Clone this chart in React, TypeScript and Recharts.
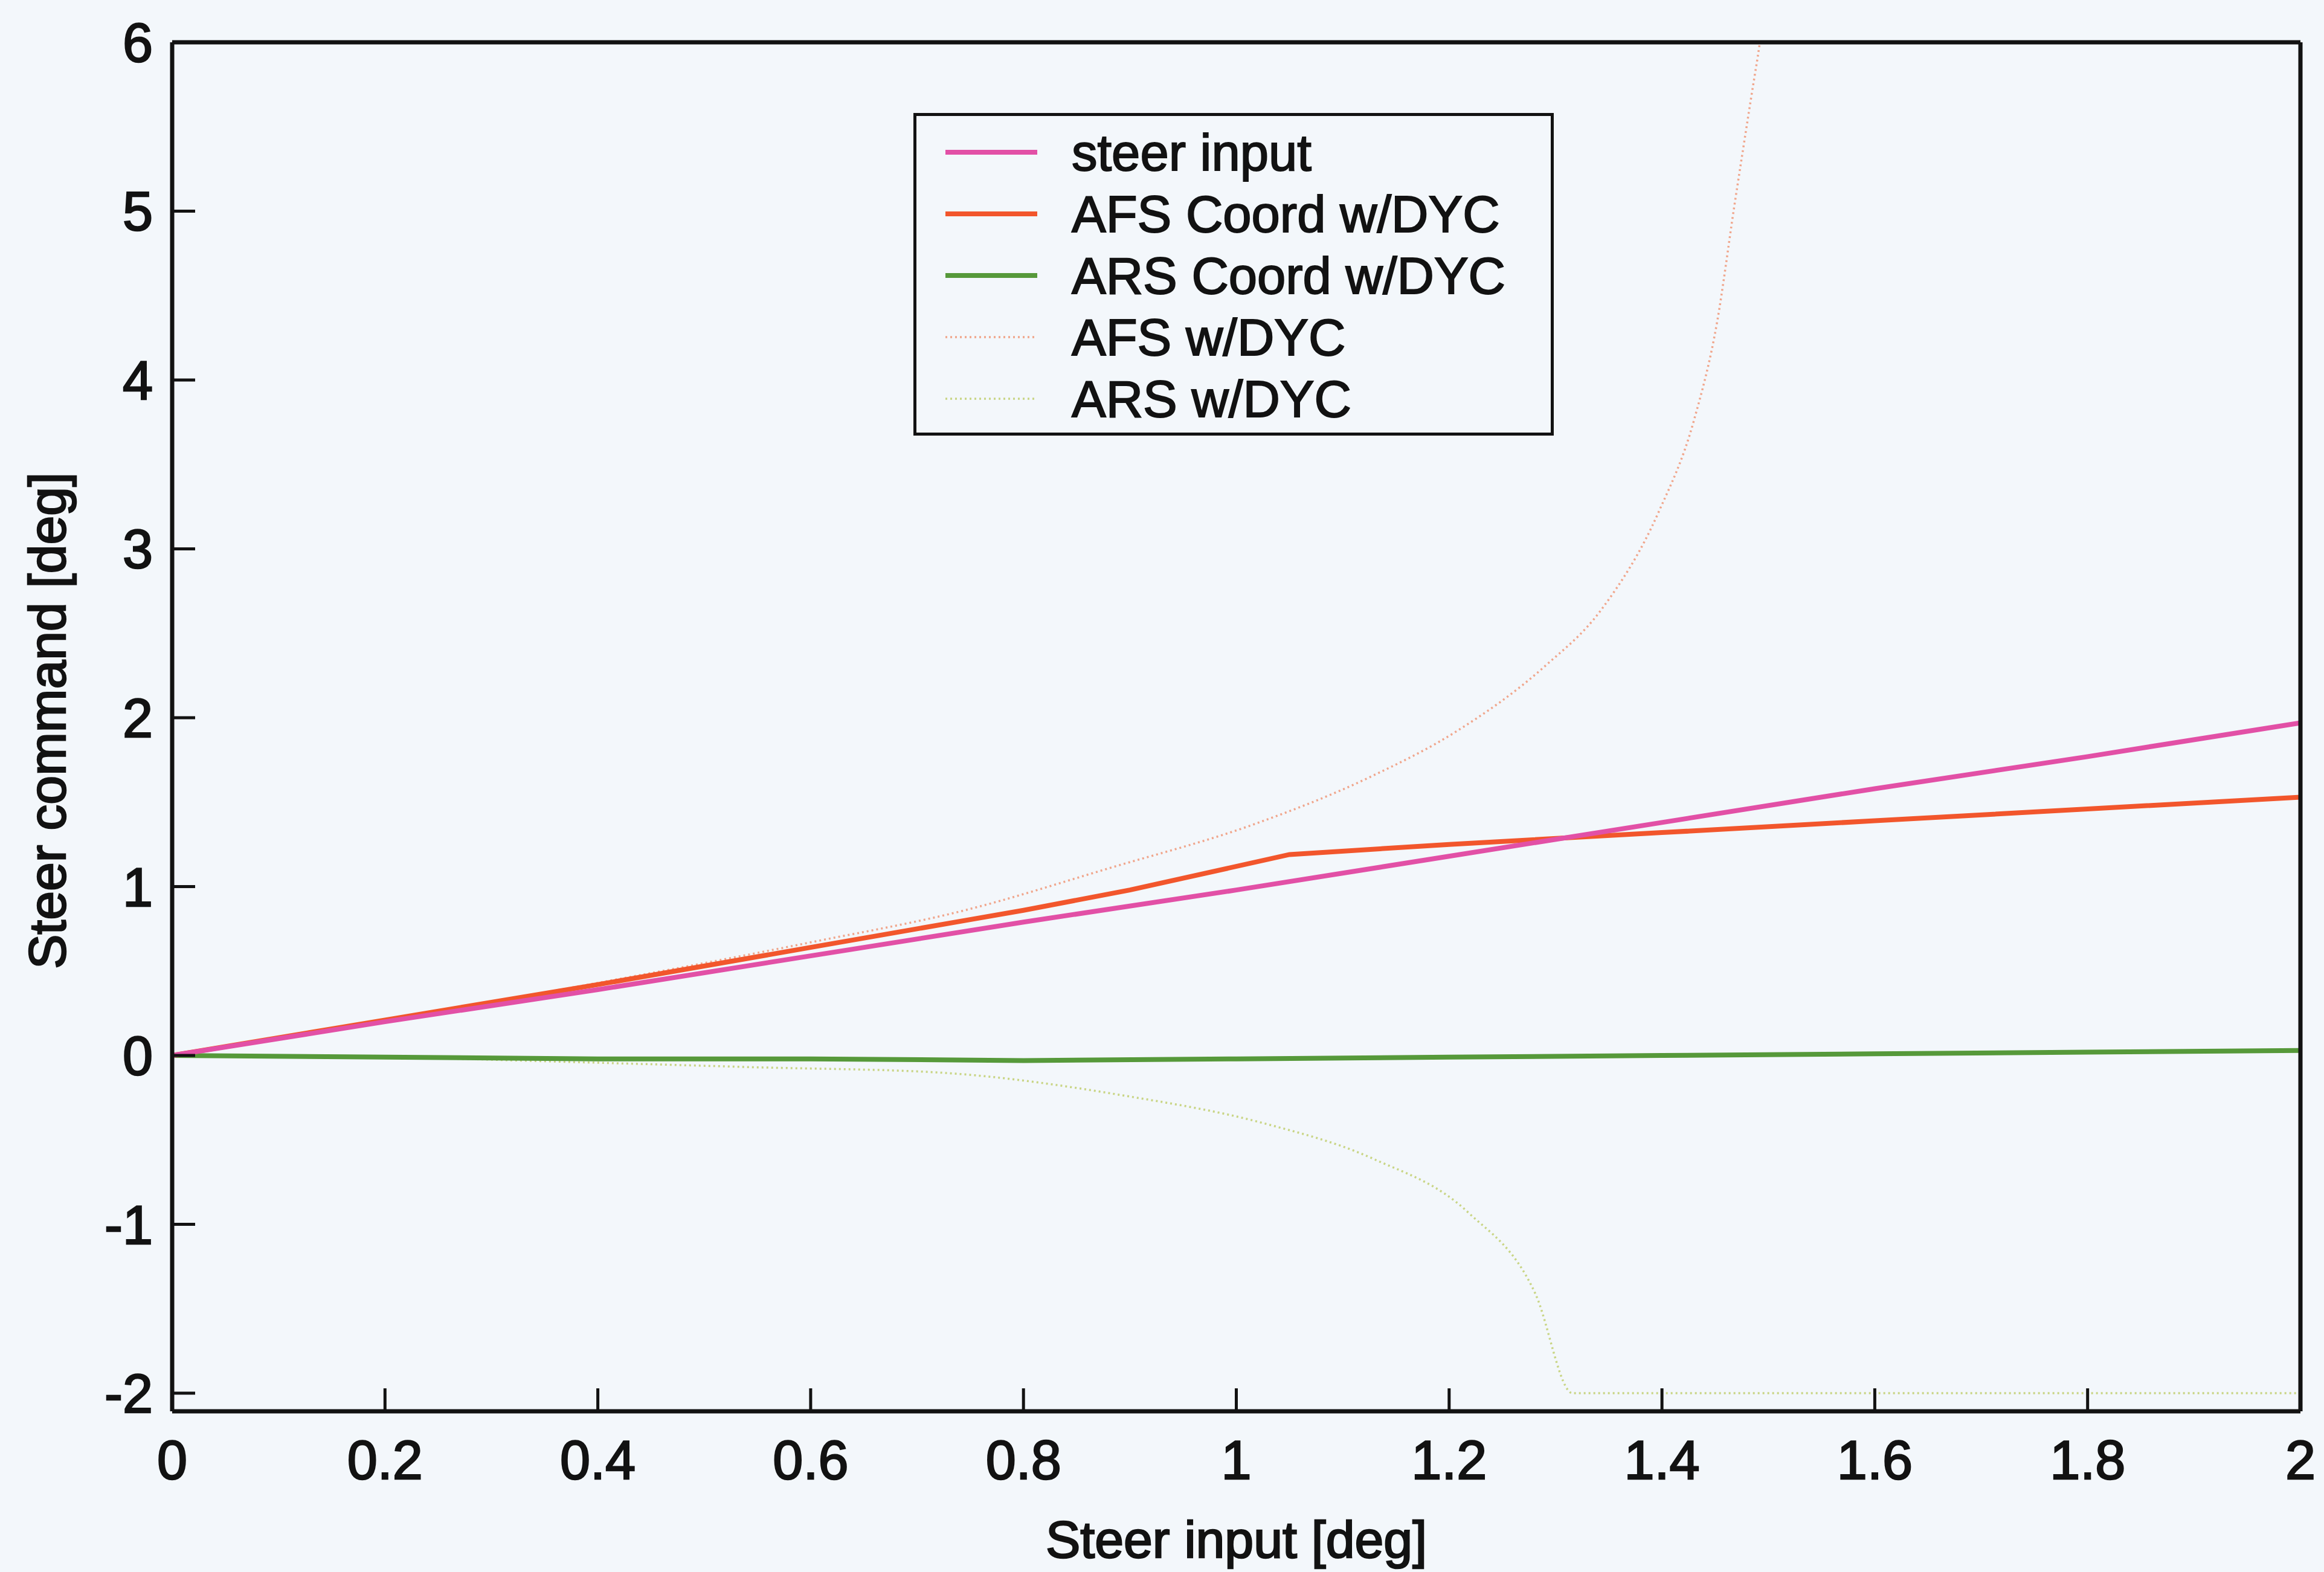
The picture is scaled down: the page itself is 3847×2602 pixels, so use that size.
import { LineChart, Line, XAxis, YAxis, Legend, Label } from "recharts";

// axis ticks
const xTicks = [0, 0.2, 0.4, 0.6, 0.8, 1, 1.2, 1.4, 1.6, 1.8, 2];
const yTicks = [-2, -1, 0, 1, 2, 3, 4, 5, 6];

// steer input
const steerInputX = [0, 0.2, 0.4, 0.6, 0.8, 1, 1.2, 1.4, 1.6, 1.8, 2];
const steerInputY = [0, 0.2, 0.39, 0.59, 0.79, 0.98, 1.18, 1.38, 1.58, 1.77, 1.97];

// AFS Coord w/DYC
const afsCoordX = [0, 0.2, 0.4, 0.6, 0.8, 0.9, 1.05, 1.2, 1.4, 1.6, 1.8, 2];
const afsCoordY = [0, 0.21, 0.42, 0.64, 0.86, 0.98, 1.19, 1.25, 1.32, 1.39, 1.46, 1.53];

// ARS Coord w/DYC
const arsCoordX = [0, 0.2, 0.4, 0.6, 0.8, 1, 1.2, 1.4, 1.6, 1.8, 2];
const arsCoordY = [0, -0.01, -0.02, -0.02, -0.03, -0.02, -0.01, 0, 0.01, 0.02, 0.03];

// AFS w/DYC (runs off the top of the plot)
const afsX = [0, 0.2, 0.4, 0.6, 0.745, 0.881, 1.017, 1.126, 1.207, 1.289, 1.343, 1.397, 1.43, 1.452, 1.468, 1.484, 1.492, 1.5];
const afsY = [0, 0.21, 0.43, 0.67, 0.86, 1.11, 1.37, 1.65, 1.92, 2.3, 2.64, 3.22, 3.76, 4.35, 5.03, 5.68, 6.0, 6.4];

// ARS w/DYC (saturates at -2)
const arsX = [0, 0.2, 0.384, 0.55, 0.718, 0.897, 1.025, 1.128, 1.218, 1.281, 1.316, 1.4, 1.6, 1.8, 2];
const arsY = [0, -0.01, -0.04, -0.07, -0.1, -0.24, -0.4, -0.61, -0.93, -1.41, -2.0, -2.0, -2.0, -2.0, -2.0];

const toPoints = (xs: number[], ys: number[]) => xs.map((x, i) => ({ x, y: ys[i] }));

const FONT = '"Liberation Sans", Arial, Helvetica, sans-serif';
const BG = "#f3f7fb";
const INK = "#121212";

const series = [
  { name: "steer input", data: toPoints(steerInputX, steerInputY), color: "#e250a6", width: 8, dash: undefined, type: "linear" },
  { name: "AFS Coord w/DYC", data: toPoints(afsCoordX, afsCoordY), color: "#f2562c", width: 8, dash: undefined, type: "linear" },
  { name: "ARS Coord w/DYC", data: toPoints(arsCoordX, arsCoordY), color: "#56993a", width: 8, dash: undefined, type: "linear" },
  { name: "AFS w/DYC", data: toPoints(afsX, afsY), color: "#f0a68c", width: 3.5, dash: "3 5", type: "monotone" },
  { name: "ARS w/DYC", data: toPoints(arsX, arsY), color: "#c9d585", width: 3.5, dash: "3 5", type: "monotone" },
] as const;

const textStroke = { stroke: INK, strokeWidth: 2.5, paintOrder: "stroke" as const };

function LegendBox() {
  return (
    <div
      style={{
        boxSizing: "border-box",
        width: 1060,
        height: 534,
        border: `5px solid ${INK}`,
        background: BG,
        paddingTop: 9,
        fontFamily: FONT,
      }}
    >
      {series.map((s) => (
        <div key={s.name} style={{ display: "flex", alignItems: "center", height: 102 }}>
          <svg width={152} height={20} style={{ marginLeft: 48, marginRight: 57 }}>
            <line
              x1={0}
              y1={10}
              x2={152}
              y2={10}
              stroke={s.color}
              strokeWidth={s.width}
              strokeDasharray={s.dash}
            />
          </svg>
          <span style={{ fontSize: 85, color: INK, lineHeight: 1, WebkitTextStroke: `2px ${INK}` }}>{s.name}</span>
        </div>
      ))}
    </div>
  );
}

export default function App() {
  const tickStyle = { fontSize: 90, fill: INK, fontFamily: FONT, ...textStroke };
  const axisLine = { stroke: INK, strokeWidth: 7 };
  const tickLine = { stroke: INK, strokeWidth: 5 };

  return (
    <div style={{ position: "absolute", left: 0, top: 0, width: 3847, height: 2602, background: BG }}>
      <LineChart width={3847} height={2602} margin={{ top: 69, right: 38, bottom: 0, left: 0 }}>
        <XAxis
          dataKey="x"
          type="number"
          domain={[0, 2]}
          ticks={xTicks}
          interval={0}
          allowDuplicatedCategory={false}
          height={266}
          axisLine={axisLine}
          tickLine={tickLine}
          tickSize={-38}
          tickMargin={86}
          tick={tickStyle}
          tickFormatter={(v: number) => String(v)}
        >
          <Label
            value="Steer input [deg]"
            position="insideBottom"
            offset={24}
            style={{ fontSize: 86, fill: INK, fontFamily: FONT, ...textStroke }}
          />
        </XAxis>
        <XAxis
          xAxisId="top"
          orientation="top"
          dataKey="x"
          type="number"
          domain={[0, 2]}
          ticks={xTicks}
          interval={0}
          height={1}
          axisLine={axisLine}
          tickLine={tickLine}
          tickSize={-38}
          tick={false}
        />
        <YAxis
          type="number"
          domain={[-2.107, 6]}
          allowDataOverflow
          ticks={yTicks}
          interval={0}
          width={285}
          axisLine={axisLine}
          tickLine={tickLine}
          tickSize={-38}
          tickMargin={70}
          tick={tickStyle}
        >
          <Label
            content={(props: any) => {
              const vb = props.viewBox || { x: 0, y: 70, width: 285, height: 2266 };
              const cx = vb.x + 78;
              const cy = vb.y + vb.height / 2 - 10;
              return (
                <text
                  x={cx}
                  y={cy}
                  transform={`rotate(-90, ${cx}, ${cy})`}
                  textAnchor="middle"
                  dominantBaseline="central"
                  style={{ fontSize: 86, fill: INK, fontFamily: FONT, ...textStroke }}
                >
                  Steer command [deg]
                </text>
              );
            }}
          />
        </YAxis>
        <YAxis
          yAxisId="right"
          orientation="right"
          type="number"
          domain={[-2.107, 6]}
          allowDataOverflow
          ticks={yTicks}
          interval={0}
          width={1}
          axisLine={axisLine}
          tickLine={tickLine}
          tickSize={-38}
          tick={false}
        />
        <Legend
          layout="vertical"
          align="center"
          verticalAlign="middle"
          wrapperStyle={{ position: "absolute", left: 1512, top: 187, width: 1060, height: 534 }}
          content={() => <LegendBox />}
        />
        {series
          .slice()
          .reverse()
          .map((s) => (
            <Line
              key={s.name}
              data={s.data as any}
              dataKey="y"
              name={s.name}
              type={s.type as any}
              stroke={s.color}
              strokeWidth={s.width}
              strokeDasharray={s.dash}
              dot={false}
              activeDot={false}
              isAnimationActive={false}
            />
          ))}
      </LineChart>
    </div>
  );
}
